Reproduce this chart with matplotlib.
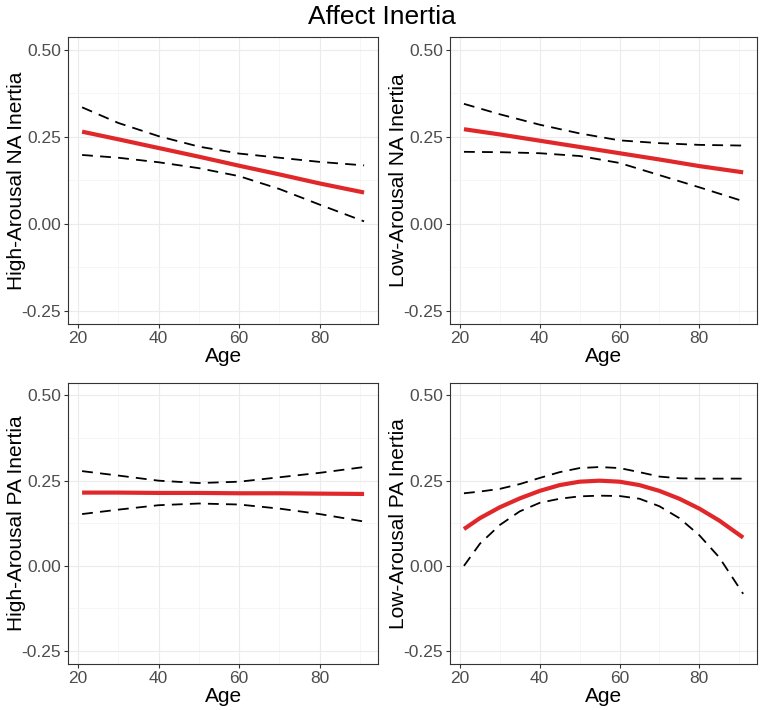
import numpy as np
import matplotlib
matplotlib.use('Agg')
import matplotlib.pyplot as plt
from matplotlib.ticker import MultipleLocator

plt.rcParams['font.family'] = ['Liberation Sans', 'DejaVu Sans']

age = [21, 30, 40, 50, 60, 70, 80, 91]
age_fine = [21, 25, 30, 35, 40, 45, 50, 55, 60, 65, 70, 75, 80, 85, 91]

# High-Arousal NA
ha_na_fit = [0.265, 0.243, 0.218, 0.193, 0.167, 0.142, 0.116, 0.090]
ha_na_hi = [0.335, 0.290, 0.252, 0.222, 0.202, 0.190, 0.178, 0.168]
ha_na_lo = [0.198, 0.190, 0.177, 0.160, 0.137, 0.100, 0.055, 0.007]

# Low-Arousal NA
la_na_fit = [0.272, 0.257, 0.239, 0.221, 0.203, 0.185, 0.166, 0.148]
la_na_hi = [0.345, 0.315, 0.285, 0.260, 0.240, 0.232, 0.227, 0.225]
la_na_lo = [0.207, 0.206, 0.203, 0.195, 0.175, 0.140, 0.105, 0.065]

# High-Arousal PA
ha_pa_fit = [0.215, 0.215, 0.214, 0.214, 0.213, 0.213, 0.212, 0.211]
ha_pa_hi = [0.278, 0.265, 0.250, 0.243, 0.247, 0.260, 0.273, 0.290]
ha_pa_lo = [0.152, 0.165, 0.178, 0.183, 0.180, 0.168, 0.152, 0.130]

# Low-Arousal PA
la_pa_fit = [0.108, 0.140, 0.172, 0.198, 0.220, 0.237, 0.247, 0.250, 0.247,
             0.237, 0.220, 0.197, 0.168, 0.133, 0.083]
la_pa_hi = [0.213, 0.218, 0.226, 0.240, 0.258, 0.275, 0.287, 0.290, 0.287,
            0.275, 0.262, 0.257, 0.256, 0.256, 0.256]
la_pa_lo = [0.000, 0.065, 0.120, 0.160, 0.185, 0.197, 0.204, 0.206, 0.205,
            0.197, 0.175, 0.140, 0.090, 0.025, -0.082]

panels = [
    (age, ha_na_fit, ha_na_hi, ha_na_lo, 'High-Arousal NA Inertia'),
    (age, la_na_fit, la_na_hi, la_na_lo, 'Low-Arousal NA Inertia'),
    (age, ha_pa_fit, ha_pa_hi, ha_pa_lo, 'High-Arousal PA Inertia'),
    (age_fine, la_pa_fit, la_pa_hi, la_pa_lo, 'Low-Arousal PA Inertia'),
]

fig = plt.figure(figsize=(7.64, 7.10), dpi=100)

# axes boxes [left, bottom, width, height] in figure fractions
boxes = [
    [0.089, 0.544, 0.406, 0.404],
    [0.589, 0.544, 0.402, 0.404],
    [0.089, 0.065, 0.406, 0.396],
    [0.589, 0.065, 0.402, 0.396],
]

for box, (x, fit, hi, lo, label) in zip(boxes, panels):
    ax = fig.add_axes(box)
    ax.plot(x, hi, color='black', lw=1.3, dashes=(6, 4))
    ax.plot(x, lo, color='black', lw=1.3, dashes=(6, 4))
    ax.plot(x, fit, color='#e0282b', lw=3.0, solid_capstyle='butt')

    ax.set_xlim(17.5, 94.5)
    ax.set_ylim(-0.2875, 0.5375)
    ax.set_yticks([-0.25, 0.0, 0.25, 0.5])
    ax.set_yticklabels(['-0.25', '0.00', '0.25', '0.50'])
    ax.set_xticks([20, 40, 60, 80])
    ax.xaxis.set_minor_locator(MultipleLocator(10))
    ax.yaxis.set_minor_locator(MultipleLocator(0.125))
    ax.grid(True, which='major', color='#ebebeb', lw=0.8)
    ax.grid(True, which='minor', color='#f3f3f3', lw=0.5)
    ax.set_axisbelow(True)
    ax.tick_params(which='major', length=3, color='#333333', labelsize=12.5,
                   labelcolor='#4d4d4d', pad=2)
    ax.tick_params(which='minor', length=0)
    for s in ax.spines.values():
        s.set_color('#333333')
        s.set_linewidth(0.8)
    ax.set_xlabel('Age', fontsize=15, labelpad=1)
    ax.set_ylabel(label, fontsize=15, va='center')
    # put the y label about 51 px left of the panel edge
    ax.yaxis.set_label_coords(-51 / (box[2] * 764), 0.5)

fig.suptitle('Affect Inertia', fontsize=19, y=0.993)

fig.savefig('out.png', dpi=100)
